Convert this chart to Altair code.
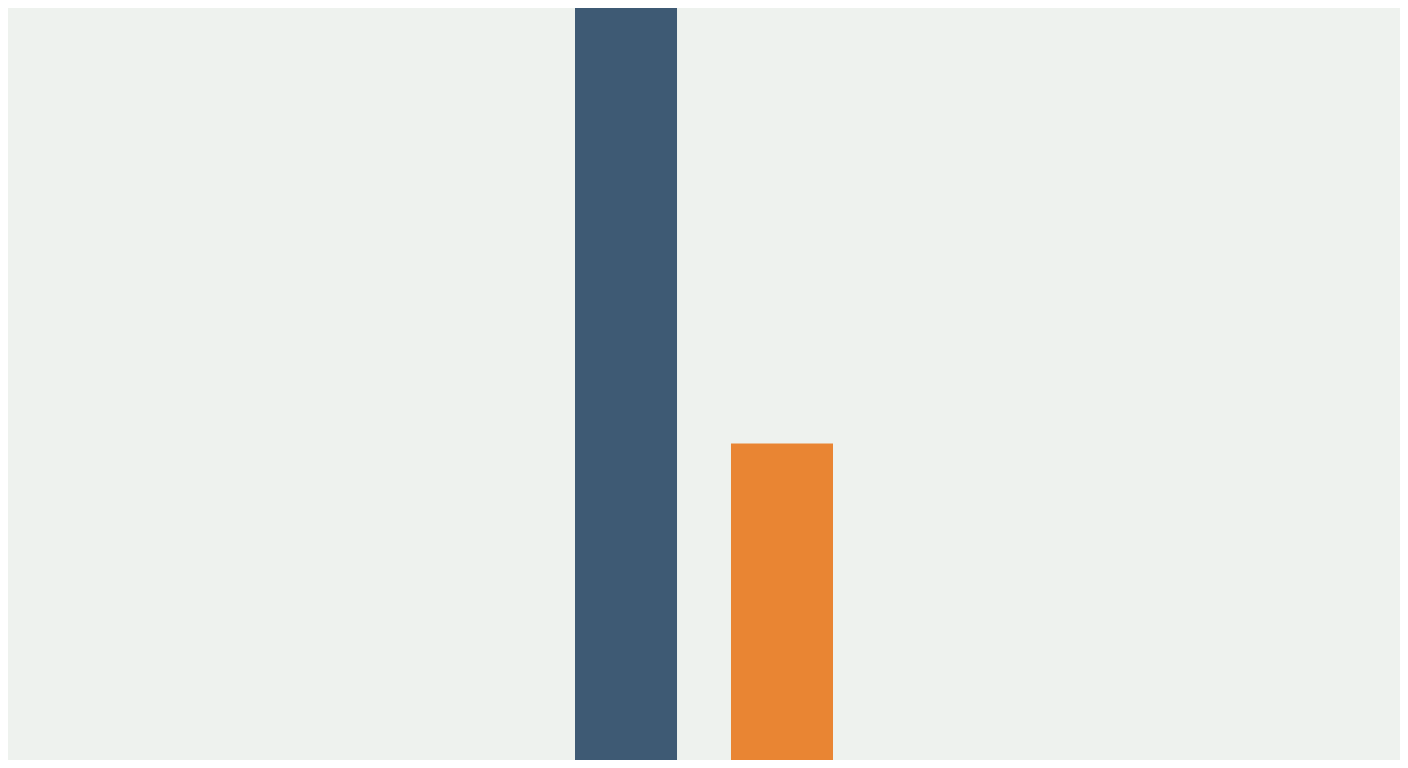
import altair as alt
import pandas as pd

categories = ["A", "B"]
values = [100, 42.1]
colors = ["#3E5A74", "#E98533"]

df = pd.DataFrame({"category": categories, "value": values, "color": colors})

chart = (
    alt.Chart(df)
    .mark_bar()
    .encode(
        x=alt.X(
            "category:N",
            sort=categories,
            axis=None,
            scale=alt.Scale(paddingInner=0.346, paddingOuter=0, range=[567, 825]),
        ),
        y=alt.Y("value:Q", axis=None, scale=alt.Scale(domain=[0, 100], nice=False, zero=True)),
        color=alt.Color("color:N", scale=None, legend=None),
    )
    .properties(width=1392, height=752, padding=0, background="#EEF2EE",
                autosize=alt.AutoSizeParams(type="none"))
    .configure_view(stroke=None, fill="#EEF2EE")
)

chart.save("out.html", embed_options={"renderer": "svg", "actions": False})
